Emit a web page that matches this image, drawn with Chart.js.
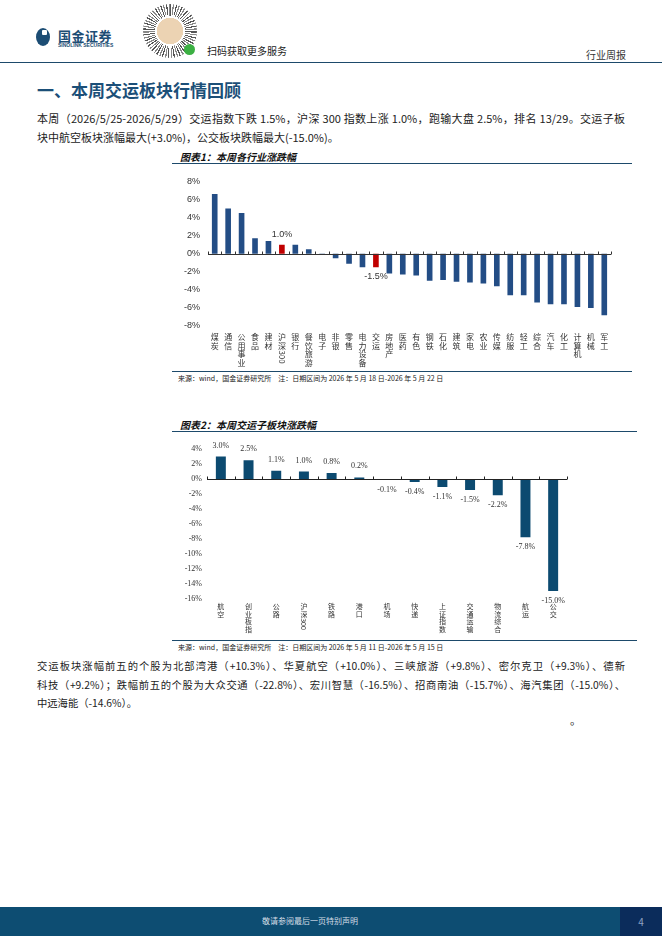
<!DOCTYPE html>
<html>
<head>
<meta charset="utf-8">
<script src="https://cdn.jsdelivr.net/npm/chart.js@4.4.1/dist/chart.umd.min.js"></script>
<style>
  body { margin: 0; background: #fff; }
  .page { position: relative; width: 662px; height: 936px; overflow: hidden; background: #fff;
          font-family: "Noto Sans CJK SC", "Noto Sans", sans-serif; color: #222; }
  .abs { position: absolute; white-space: nowrap; }
  .logo-icon { left: 36px; top: 28px; width: 14px; height: 18px; border-radius: 50%; background: #1c4d74; }
  .logo-icon::after { content: ""; position: absolute; left: 6px; top: 2px; width: 5px; height: 5px; background: #fff; border-radius: 1px; }
  .logo-cn { left: 58px; top: 26px; font-size: 13px; font-weight: 700; color: #1c4d74; letter-spacing: 0.5px; }
  .logo-en { left: 58px; top: 42px; font-size: 5px; font-weight: 700; color: #1c4d74; font-family: "Liberation Sans", sans-serif; }
  .qr { left: 143px; top: 4px; width: 54px; height: 54px; border-radius: 50%;
        background: radial-gradient(circle, #ecd3b3 0 34%, #fff 35% 39%, transparent 40%),
                    repeating-conic-gradient(#555 0 3deg, #fff 3deg 6deg, #888 6deg 9deg, #fff 9deg 13deg); }
  .qr-dot { left: 184px; top: 44px; width: 11px; height: 11px; border-radius: 50%; background: #3cb043; }
  .scan { left: 207px; top: 43px; font-size: 10px; color: #222; }
  .kind { left: 586px; top: 47px; font-size: 10px; color: #333; }
  .hline { position: absolute; height: 0; border-top: 1.5px solid #1d4a6b; }
  .title { left: 37px; top: 77px; font-size: 17px; font-weight: 700; color: #1b4f78; }
  .para { position: absolute; left: 37px; width: 588px; font-size: 11px; line-height: 19px; color: #222; text-align: justify; }
  .para .j { text-align-last: justify; white-space: nowrap; }
  .ctitle { font-size: 10px; font-weight: 700; font-style: italic; color: #111; }
  .src { font-size: 7px; color: #222; }
  .footer { left: 0; top: 907px; width: 662px; height: 29px; background: #0d4d72; }
  .footer span { position: absolute; left: 0; width: 620px; top: 8px; text-align: center; font-size: 8px; color: #d4dde6; }
  .pnum { left: 620px; top: 907px; width: 42px; height: 29px; background: #0b2c5b; color: #8fa2c2; font-size: 10px; text-align: center; line-height: 29px; }
  canvas { position: absolute; }
</style>
</head>
<body>
<div class="page">
  <div class="abs logo-icon"></div>
  <div class="abs logo-cn">国金证券</div>
  <div class="abs logo-en">SINOLINK SECURITIES</div>
  <div class="abs qr"></div>
  <div class="abs qr-dot"></div>
  <div class="abs scan">扫码获取更多服务</div>
  <div class="abs kind">行业周报</div>
  <div class="hline" style="left:0;top:62px;width:662px;"></div>

  <div class="abs title">一、本周交运板块行情回顾</div>
  <div class="para" style="top:109px;">
    <div class="j">本周（2026/5/25-2026/5/29）交运指数下跌 1.5%，沪深 300 指数上涨 1.0%，跑输大盘 2.5%，排名 13/29。交运子板</div>
    <div>块中航空板块涨幅最大(+3.0%)，公交板块跌幅最大(-15.0%)。</div>
  </div>

  <div class="abs ctitle" style="left:180px;top:149px;">图表1：本周各行业涨跌幅</div>
  <div class="hline" style="left:172px;top:163px;width:460px;"></div>
  <canvas id="chart1" style="left:170px;top:168px;width:450px;height:202px;"></canvas>
  <div class="hline" style="left:172px;top:371px;width:460px;"></div>
  <div class="abs src" style="left:178px;top:373px;">来源：wind，国金证券研究所　注：日期区间为 2026 年 5 月 18 日-2026 年 5 月 22 日</div>

  <div class="abs ctitle" style="left:180px;top:417px;">图表2：本周交运子板块涨跌幅</div>
  <div class="hline" style="left:172px;top:431px;width:465px;"></div>
  <canvas id="chart2" style="left:172px;top:437px;width:440px;height:202px;"></canvas>
  <div class="hline" style="left:172px;top:640px;width:465px;"></div>
  <div class="abs src" style="left:178px;top:642px;">来源：wind，国金证券研究所　注：日期区间为 2026 年 5 月 11 日-2026 年 5 月 15 日</div>

  <div class="para" style="top:657px;font-size:10.3px;line-height:18.5px;">
    <div class="j">交运板块涨幅前五的个股为北部湾港（+10.3%）、华夏航空（+10.0%）、三峡旅游（+9.8%）、密尔克卫（+9.3%）、德新</div>
    <div class="j">科技（+9.2%）；跌幅前五的个股为大众交通（-22.8%）、宏川智慧（-16.5%）、招商南油（-15.7%）、海汽集团（-15.0%）、</div>
    <div>中远海能（-14.6%）。</div>
  </div>
  <div class="abs" style="left:570px;top:712px;font-size:11px;">。</div>

  <div class="abs footer"><span>敬请参阅最后一页特别声明</span></div>
  <div class="abs pnum">4</div>
</div>

<script>
// chart 1: industries
const industryLabels = ["煤炭", "通信", "公用事业", "食品", "建材", "沪深300", "银行", "餐饮旅游", "电子", "非银",
  "零售", "电力设备", "交运", "房地产", "医药", "有色", "钢铁", "石化", "建筑", "家电",
  "农业", "传媒", "纺服", "轻工", "综合", "汽车", "化工", "计算机", "机械", "军工"];
const industryChange = [6.6, 5.0, 4.5, 1.7, 1.4, 1.0, 1.0, 0.5, -0.05, -0.5,
  -1.1, -1.5, -1.5, -2.2, -2.3, -2.4, -3.0, -2.9, -3.1, -3.2,
  -3.3, -3.6, -4.6, -4.6, -5.4, -5.6, -5.6, -5.9, -6.0, -6.8];
const highlighted = ["沪深300", "交运"];
const industryTicks = { min: -8, max: 8, step: 2 };

// chart 2: transport sub-sectors
const subLabels = ["航空", "创业板指", "公路", "沪深300", "铁路", "港口", "机场", "快递", "上证指数", "交通运输", "物流综合", "航运", "公交"];
const subChange = [3.0, 2.5, 1.1, 1.0, 0.8, 0.2, -0.1, -0.4, -1.1, -1.5, -2.2, -7.8, -15.0];
const subTicks = { min: -16, max: 4, step: 2 };

// stacked vertical category labels, digit runs rotated
function stackedLabels(opts) {
  return {
    id: "stackedLabels",
    afterDraw(chart) {
      const { ctx, chartArea, scales: { x } } = chart;
      ctx.save();
      ctx.fillStyle = opts.color;
      ctx.font = opts.font;
      ctx.textAlign = "center";
      ctx.textBaseline = "top";
      chart.data.labels.forEach((label, i) => {
        const cx = x.getPixelForValue(i);
        let y = chartArea.bottom + opts.pad;
        label.match(/\d+|./g).forEach((tok) => {
          if (/^\d+$/.test(tok)) {
            const w = ctx.measureText(tok).width;
            ctx.save();
            ctx.translate(cx, y + w / 2);
            ctx.rotate(Math.PI / 2);
            ctx.textBaseline = "middle";
            ctx.fillText(tok, 0, 0);
            ctx.restore();
            y += w + 1;
          } else {
            ctx.fillText(tok, cx, y);
            y += opts.lineH;
          }
        });
      });
      ctx.restore();
    },
  };
}

// zero line with small ticks between categories
function zeroAxis(opts) {
  return {
    id: "zeroAxis",
    afterDatasetsDraw(chart) {
      const { ctx, chartArea: { left, right }, scales: { y } } = chart;
      const y0 = Math.round(y.getPixelForValue(0)) + 0.5;
      const n = chart.data.labels.length;
      const step = (right - left) / n;
      ctx.save();
      ctx.strokeStyle = opts.color;
      ctx.lineWidth = 1;
      ctx.beginPath();
      ctx.moveTo(left, y0);
      ctx.lineTo(right, y0);
      for (let i = 0; i <= n; i++) {
        const xx = Math.round(left + i * step) + 0.5;
        ctx.moveTo(xx, y0);
        ctx.lineTo(xx, y0 - opts.tick);
      }
      ctx.stroke();
      ctx.restore();
    },
  };
}

function barValues(opts) {
  return {
    id: "barValues",
    afterDatasetsDraw(chart) {
      const { ctx } = chart;
      const values = chart.data.datasets[0].data;
      ctx.save();
      ctx.fillStyle = opts.color;
      ctx.font = opts.font;
      ctx.textAlign = "center";
      ctx.textBaseline = "middle";
      chart.getDatasetMeta(0).data.forEach((bar, i) => {
        if (opts.only && !opts.only.includes(i)) return;
        const v = values[i];
        const y = v >= 0 ? bar.y - opts.gapUp : bar.y + opts.gapDown;
        ctx.fillText(v.toFixed(1) + "%", bar.x, y);
      });
      ctx.restore();
    },
  };
}

function setup(id, w, h) {
  const c = document.getElementById(id);
  c.width = w;
  c.height = h;
  return c;
}

Chart.defaults.animation = false;

const c1 = setup("chart1", 450, 202);
new Chart(c1, {
  type: "bar",
  data: {
    labels: industryLabels,
    datasets: [{
      data: industryChange,
      backgroundColor: industryLabels.map((l) => (highlighted.includes(l) ? "#c00000" : "#234d85")),
      barPercentage: 0.42,
      categoryPercentage: 1,
    }],
  },
  options: {
    responsive: false,
    layout: { padding: { top: 12, right: 9, bottom: 0, left: 0 } },
    plugins: { legend: { display: false }, tooltip: { enabled: false } },
    scales: {
      x: {
        grid: { display: false, drawTicks: false },
        border: { display: false },
        ticks: { display: false },
        afterFit: (s) => { s.height = 44; },
      },
      y: {
        min: industryTicks.min,
        max: industryTicks.max,
        grid: { display: false, drawTicks: false },
        border: { display: false },
        ticks: {
          stepSize: industryTicks.step,
          padding: 8,
          color: "#333",
          font: { family: "Liberation Sans", size: 9 },
          callback: (v) => v + "%",
        },
        afterFit: (s) => { s.width = 38; },
      },
    },
  },
  plugins: [
    zeroAxis({ color: "#333", tick: 3 }),
    stackedLabels({ font: "8px 'Noto Sans CJK SC'", color: "#333", lineH: 8.7, pad: 7 }),
    barValues({
      only: highlighted.map((l) => industryLabels.indexOf(l)),
      font: "9px 'Liberation Sans'", color: "#333", gapUp: 10, gapDown: 9.5,
    }),
  ],
});

const c2 = setup("chart2", 440, 202);
new Chart(c2, {
  type: "bar",
  data: {
    labels: subLabels,
    datasets: [{
      data: subChange,
      backgroundColor: "#0c4a70",
      barPercentage: 0.36,
      categoryPercentage: 1,
    }],
  },
  options: {
    responsive: false,
    layout: { padding: { top: 12, right: 45, bottom: 0, left: 0 } },
    plugins: { legend: { display: false }, tooltip: { enabled: false } },
    scales: {
      x: {
        grid: { display: false, drawTicks: false },
        border: { display: false },
        ticks: { display: false },
        afterFit: (s) => { s.height = 40.5; },
      },
      y: {
        min: subTicks.min,
        max: subTicks.max,
        grid: { display: false, drawTicks: false },
        border: { display: false },
        ticks: {
          stepSize: subTicks.step,
          padding: 5,
          color: "#333",
          font: { family: "Liberation Serif", size: 8 },
          callback: (v) => v + "%",
        },
        afterFit: (s) => { s.width = 35; },
      },
    },
  },
  plugins: [
    zeroAxis({ color: "#222", tick: 3 }),
    stackedLabels({ font: "7px 'Noto Sans CJK SC'", color: "#333", lineH: 7.6, pad: 4.5 }),
    barValues({ font: "8px 'Liberation Serif'", color: "#333", gapUp: 11, gapDown: 10 }),
  ],
});
</script>
</body>
</html>
